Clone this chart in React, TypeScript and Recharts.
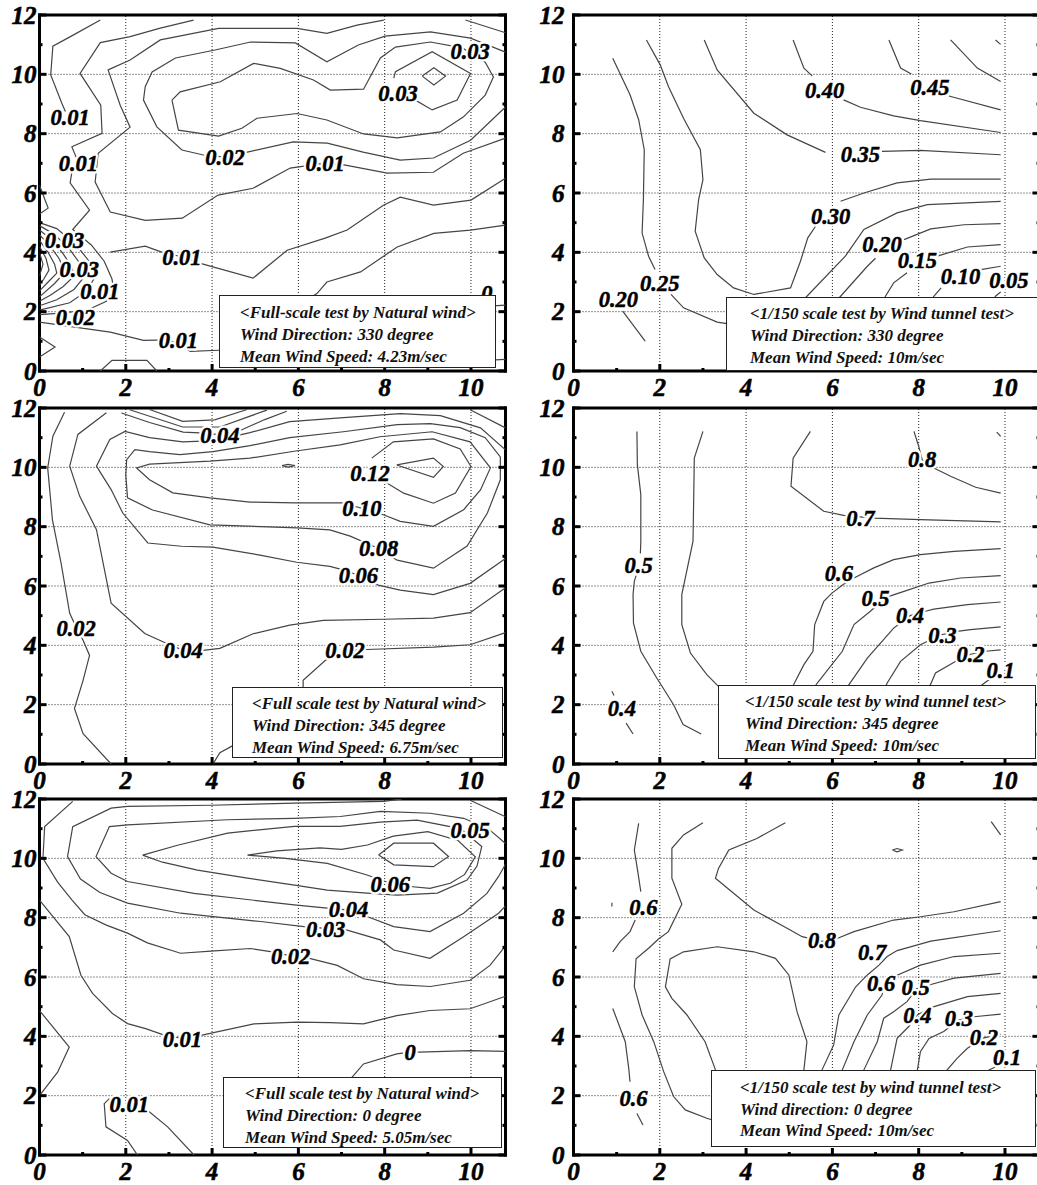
import React from "react";
import { ScatterChart, Scatter, XAxis, YAxis, ReferenceLine } from "recharts";

type Line = number[][];
type Label = [number, number, string];

const X_MAX = 10.8;
const X_TICKS = [0, 1, 2, 3, 4, 5, 6, 7, 8, 9, 10];
const Y_TICKS = [0, 1, 2, 3, 4, 5, 6, 7, 8, 9, 10, 11, 12];
const GRID_X = [2, 4, 6, 8, 10];
const GRID_Y = [2, 4, 6, 8, 10];

// ---- panel 1: full scale, 330 deg ----
const p1Lines: Line[] = [
  [[9.87, 11.83], [10.8, 11.4]],
  [[1.41, 11.83], [0.79, 11.33], [0.31, 10.95], [0.26, 9.98], [0.52, 9.02], [0.6, 8.75]],
  [[3.57, 11.83], [2.8, 11.56], [2.1, 11.27], [1.41, 11.07], [0.94, 10.03], [1.42, 8.96], [1.45, 8.01], [0.75, 7.56], [0.85, 7.2]],
  [[0.75, 6.7], [0.71, 6.34], [1.16, 5.42], [0.77, 4.77], [1.2, 4.25], [1.5, 3.7], [1.68, 3.1], [1.72, 2.75], [1.55, 2.35], [1.1, 2.05], [0.5, 1.95], [0, 1.9]],
  [[7.98, 11.83], [7.36, 11.66], [6.66, 11.38], [5.97, 11.55], [4.15, 11.55], [2.8, 11.16], [2.1, 10.48], [1.59, 10.15], [1.87, 8.96], [2.1, 8.22], [1.36, 7.34], [1.29, 6.37], [1.64, 5.36], [2.45, 5.08], [3.31, 5.15], [4.14, 5.93], [4.95, 6.16], [5.81, 6.84], [6.62, 7.01], [7.09, 6.94], [8.06, 6.67], [9.13, 6.7], [9.82, 7.34], [10.8, 7.85]],
  [[10.8, 10.75], [9.99, 11.22], [9.06, 11.43], [8.01, 11.29], [7.39, 10.99], [6.66, 10.42], [5.93, 11.06], [4.89, 11.09], [4.07, 10.82], [3.15, 10.55], [2.61, 10.08], [2.45, 9.58], [2.41, 9.13], [2.72, 8.23], [3.3, 7.45], [3.8, 7.28], [4.31, 7.21], [4.82, 7.38], [5.88, 7.72], [6.67, 7.68], [7.5, 7.38], [8.36, 7.11], [9.13, 7.18], [9.99, 7.78], [10.8, 8.9]],
  [[3.07, 9.13], [3.26, 9.41], [4.19, 9.75], [4.96, 10.37], [5.58, 10.2], [6.35, 9.81], [6.74, 9.47], [7.51, 9.5], [7.9, 10.55], [8.25, 10.92], [9.06, 11.09], [9.8, 10.89], [10.33, 10.41], [10.52, 9.91], [10.33, 9.3], [9.82, 8.56], [9.29, 8.06], [8.29, 7.86], [7.51, 7.99], [6.66, 8.46], [5.97, 8.68], [5.04, 8.52], [4.69, 8.18], [4.15, 7.92], [3.22, 8.12], [3.07, 9.13]],
  [[8.21, 9.87], [8.25, 10.09], [9.1, 10.76], [9.99, 10.03], [9.68, 9.13], [9.1, 8.8], [8.71, 9.13]],
  [[8.87, 9.94], [9.14, 10.22], [9.41, 9.94], [9.14, 9.64], [8.87, 9.94]],
  [[0, 6.26], [0.2, 5.49], [0, 5.29]],
  [[0, 5.0], [0.4, 4.8], [0.85, 4.25], [1.15, 3.7], [1.3, 3.2], [1.1, 2.7], [0.7, 2.3], [0, 2.05]],
  [[0, 4.9], [0.35, 4.6], [0.7, 4.1], [0.95, 3.6], [1.05, 3.2], [0.8, 2.75], [0.4, 2.4], [0, 2.2]],
  [[0, 4.75], [0.3, 4.4], [0.55, 3.95], [0.75, 3.5], [0.8, 3.2], [0.55, 2.85], [0.25, 2.55], [0, 2.35]],
  [[0, 4.6], [0.25, 4.2], [0.45, 3.8], [0.6, 3.35], [0.35, 2.95], [0, 2.5]],
  [[0, 4.4], [0.2, 4.0], [0.35, 3.6], [0.4, 3.3], [0.2, 3.0], [0, 2.7]],
  [[0, 4.2], [0.15, 3.8], [0.22, 3.4], [0.1, 3.1], [0, 2.9]],
  [[0, 4.0], [0.08, 3.6], [0, 3.2]],
  [[0, 1.65], [1.64, 1.31], [2.41, 1.03], [3.0, 1.05], [3.5, 0.66], [4.15, 0.7], [5.2, 0.72]],
  [[0, 1.15], [0.36, 0.81], [0, 0.47]],
  [[1.41, 0], [1.68, 0.36], [2.49, 0.36], [2.72, 0]],
  [[1.64, 4.01], [2.45, 4.21], [2.88, 3.98], [3.3, 3.85], [3.73, 3.63], [4.95, 3.13], [5.74, 4.07], [6.62, 4.48], [7.13, 4.75], [7.97, 5.59], [8.36, 5.86], [9.13, 5.59], [10.0, 5.76], [10.8, 6.5]],
  [[6.16, 2.38], [6.43, 2.61], [6.66, 3.0], [7.44, 3.34], [8.29, 4.18], [9.14, 4.64], [9.99, 4.75], [10.8, 4.92]],
  [[9.5, 2.1], [10.8, 2.22]],
  [[9.5, 0.3], [10.8, 0.39]],
];
const p1Labels: Label[] = [
  [0.71, 8.57, "0.01"], [0.9, 7.02, "0.01"], [4.3, 7.22, "0.02"], [6.62, 7.0, "0.01"],
  [8.31, 9.38, "0.03"], [9.98, 10.77, "0.03"], [0.58, 4.42, "0.03"], [0.92, 3.45, "0.03"],
  [1.4, 2.7, "0.01"], [0.83, 1.8, "0.02"], [3.3, 3.85, "0.01"], [3.22, 1.03, "0.01"],
  [10.37, 2.63, "0"],
];

// ---- panel 2: 1/150 wind tunnel, 330 deg ----
const p2Lines: Line[] = [
  [[0.91, 10.54], [1.31, 9.31], [1.51, 8.47], [1.64, 7.46], [1.62, 5.77], [1.59, 4.65], [1.74, 3.87], [1.89, 3.42]],
  [[2.26, 2.58], [2.55, 2.13], [3.33, 1.65], [3.56, 1.6], [4.5, 1.5]],
  [[1.14, 2.02], [1.66, 1.01]],
  [[1.69, 11.16], [2.01, 10.32], [2.2, 9.59], [2.55, 8.52], [2.94, 7.46], [3.0, 6.45], [2.9, 5.78], [2.82, 4.71], [3.03, 3.81], [3.33, 3.25], [3.71, 2.8], [4.18, 2.58], [5.03, 2.8], [5.26, 3.7], [5.43, 4.49], [5.61, 4.88]],
  [[6.19, 5.72], [6.73, 6.0], [7.5, 6.34], [8.28, 6.47], [9.9, 6.47]],
  [[3.03, 11.16], [3.33, 10.15], [4.18, 8.69], [4.95, 7.96], [5.84, 7.37]],
  [[7.15, 7.4], [8.04, 7.44], [9.9, 7.29]],
  [[5.09, 11.16], [5.34, 10.21], [5.53, 9.95]],
  [[6.26, 9.14], [6.65, 8.89], [7.42, 8.6], [8.04, 8.44], [9.9, 8.04]],
  [[7.31, 11.16], [7.58, 10.21], [7.83, 10.01]],
  [[8.7, 9.27], [9.9, 8.8]],
  [[8.74, 11.16], [9.36, 10.21], [9.9, 9.76]],
  [[9.78, 11.16], [9.9, 11.01]],
  [[5.0, 1.9], [5.41, 2.52], [6.3, 3.87], [6.73, 4.77], [7.5, 5.33], [8.2, 5.61], [9.9, 5.72]],
  [[5.8, 1.9], [6.19, 2.52], [6.81, 3.53], [7.0, 3.8]],
  [[7.66, 4.43], [8.28, 4.79], [9.05, 4.93], [9.9, 4.97]],
  [[7.0, 1.9], [7.23, 2.52], [7.42, 2.97], [7.73, 3.31]],
  [[8.43, 3.87], [9.13, 4.18], [9.9, 4.26]],
  [[8.2, 2.0], [8.35, 2.52], [8.52, 2.8]],
  [[9.44, 3.42], [9.9, 3.53]],
  [[9.7, 2.3], [9.78, 2.52], [9.9, 2.66]],
];
const p2Labels: Label[] = [
  [1.04, 2.43, "0.20"], [2.0, 2.97, "0.25"], [5.96, 5.22, "0.30"], [6.65, 7.32, "0.35"],
  [5.82, 9.48, "0.40"], [8.26, 9.57, "0.45"], [7.15, 4.26, "0.20"], [7.97, 3.74, "0.15"],
  [8.97, 3.2, "0.10"], [10.09, 3.08, "0.05"],
];

// ---- panel 3: full scale, 345 deg ----
const p3Lines: Line[] = [
  [[0.58, 11.86], [0.31, 11.05], [0.19, 9.98], [0.3, 8.23], [0.5, 6.77], [0.7, 5.08], [0.85, 4.61], [1.01, 4.17], [1.16, 3.66], [1.01, 2.82], [0.81, 1.87], [1.01, 1.02], [1.66, 0]],
  [[1.55, 11.84], [0.89, 11.11], [0.7, 10.04], [0.93, 9.03], [1.32, 7.9], [1.66, 5.42], [2.44, 4.4], [2.86, 4.12], [3.33, 3.83], [3.79, 3.83], [4.18, 3.9], [4.95, 4.39], [5.8, 4.68], [6.58, 4.84], [7.97, 4.88], [9.13, 4.92], [9.98, 5.1], [10.8, 5.94]],
  [[10.8, 10.59], [10.22, 11.33], [9.29, 11.74], [8.36, 11.81], [6.97, 11.67], [5.8, 11.54], [4.88, 11.17], [4.06, 10.9], [3.32, 10.86], [2.55, 11.0], [1.98, 11.21], [1.63, 10.94], [1.32, 10.04], [1.66, 9.25], [1.93, 8.46], [2.51, 7.45], [3.29, 7.34], [4.02, 7.31], [5.11, 7.04], [5.96, 6.8], [6.73, 6.66], [6.97, 6.57], [7.38, 6.37], [7.85, 6.03], [8.36, 5.86], [9.13, 5.71], [9.98, 6.09], [10.8, 6.93]],
  [[8.29, 6.87], [9.13, 6.6], [9.91, 7.35], [10.38, 8.46], [10.68, 9.58], [10.68, 10.35], [10.33, 11.0], [9.75, 11.34], [9.06, 11.47], [8.29, 11.44], [7.04, 11.2], [5.8, 11.0], [4.88, 10.73], [4.02, 10.53], [3.25, 10.43], [2.55, 10.53], [2.21, 10.6], [2.02, 10.26], [2.0, 9.75], [2.04, 8.97], [2.62, 8.56], [3.95, 8.06], [5.97, 7.96], [6.73, 7.89], [7.2, 7.68], [7.85, 7.27], [8.29, 6.87]],
  [[7.97, 8.4], [8.36, 8.18], [9.13, 8.01], [9.83, 8.57], [10.22, 9.24], [10.45, 9.98], [9.98, 10.86], [9.1, 11.2], [7.89, 11.03], [6.97, 10.76], [5.94, 10.55], [4.88, 10.31], [3.95, 10.21], [2.55, 10.11], [2.25, 9.98], [2.55, 9.58], [3.09, 9.14], [3.95, 8.97], [4.88, 8.83], [5.94, 8.8], [7.01, 8.8], [7.47, 8.62], [7.97, 8.4]],
  [[7.7, 10.31], [8.2, 10.86], [9.13, 10.96], [9.75, 10.62], [10.0, 10.03], [9.64, 9.13], [9.13, 8.79], [8.44, 9.13], [8.05, 9.47]],
  [[8.28, 10.08], [9.13, 10.31], [9.36, 10.03], [9.13, 9.66], [8.28, 10.08]],
  [[5.62, 10.06], [5.76, 10.1], [5.92, 10.06], [5.76, 10.01], [5.62, 10.06]],
  [[2.55, 11.95], [3.32, 11.55], [4.06, 11.6], [4.81, 11.95]],
  [[2.09, 11.94], [3.32, 11.36], [4.18, 11.36], [5.27, 11.93]],
  [[1.9, 11.83], [2.55, 11.51], [3.33, 11.19], [3.71, 11.16], [4.18, 11.1], [4.6, 11.21], [5.22, 11.61], [5.73, 11.89]],
  [[5.92, 2.14], [6.11, 2.48], [6.11, 2.82], [6.62, 3.49], [7.08, 3.83], [7.59, 3.86], [9.13, 3.94], [9.98, 4.02], [10.8, 4.43]],
  [[4.02, 0], [4.18, 0.38], [4.48, 0.62], [5.0, 0.8]],
  [[9.98, 11.94], [10.8, 11.33]],
];
const p3Labels: Label[] = [
  [4.18, 11.1, "0.04"], [7.66, 9.8, "0.12"], [7.47, 8.62, "0.10"], [7.86, 7.27, "0.08"],
  [7.39, 6.37, "0.06"], [0.85, 4.59, "0.02"], [3.33, 3.83, "0.04"], [7.08, 3.83, "0.02"],
];

// ---- panel 4: 1/150 wind tunnel, 345 deg ----
const p4Lines: Line[] = [
  [[1.47, 11.21], [1.48, 10.09], [1.56, 9.08], [1.56, 7.51], [1.55, 7.1]],
  [[1.45, 6.35], [1.41, 6.16], [1.38, 5.71], [1.39, 4.75], [1.56, 3.8], [1.93, 2.9], [2.32, 2.0], [2.54, 1.33], [2.96, 1.01]],
  [[3.0, 11.21], [2.8, 10.31], [2.77, 7.51], [2.51, 5.71], [2.51, 4.7], [2.71, 3.74], [3.09, 3.01], [3.4, 2.56], [3.71, 2.22], [4.1, 2.0]],
  [[0.89, 2.45], [0.94, 2.31]],
  [[1.22, 1.38], [1.38, 1.01]],
  [[5.49, 11.21], [5.09, 10.31], [5.04, 9.36], [5.8, 8.52], [6.26, 8.38], [6.96, 8.29], [8.04, 8.24], [9.9, 8.16]],
  [[7.89, 11.21], [8.0, 10.71], [8.08, 10.26], [8.35, 9.98], [8.74, 9.7], [9.32, 9.33], [9.9, 9.13]],
  [[9.81, 11.19], [9.9, 11.04]],
  [[4.9, 2.2], [5.1, 2.67], [5.34, 3.35], [5.55, 3.8], [5.59, 4.7], [5.8, 5.48], [5.99, 5.76], [6.25, 6.05], [6.5, 6.27], [6.96, 6.61], [7.42, 6.89], [8.04, 7.06], [8.82, 7.17], [9.9, 7.26]],
  [[5.4, 2.2], [5.65, 2.73], [6.23, 3.8], [6.5, 4.7], [6.88, 5.15], [7.0, 5.3], [7.31, 5.65], [7.66, 5.82], [8.24, 6.1], [8.97, 6.27], [9.9, 6.35]],
  [[6.2, 2.2], [6.38, 2.67], [6.81, 3.57], [7.42, 4.58], [7.8, 5.0], [8.16, 5.15], [8.35, 5.22], [9.13, 5.37], [9.9, 5.46]],
  [[7.1, 2.2], [7.27, 2.73], [7.58, 3.46], [8.04, 4.02], [8.5, 4.35], [8.89, 4.47], [9.2, 4.53], [9.9, 4.62]],
  [[8.1, 2.2], [8.28, 2.7], [8.39, 3.07], [8.86, 3.46], [9.2, 3.7], [9.55, 3.8], [9.9, 3.85]],
  [[9.3, 2.3], [9.47, 2.67], [9.63, 2.84], [9.8, 3.05]],
];
const p4Labels: Label[] = [
  [1.51, 6.72, "0.5"], [1.12, 1.89, "0.4"], [6.65, 8.29, "0.7"], [8.08, 10.26, "0.8"],
  [6.15, 6.44, "0.6"], [7.0, 5.6, "0.5"], [7.8, 5.03, "0.4"], [8.55, 4.36, "0.3"],
  [9.2, 3.69, "0.2"], [9.9, 3.18, "0.1"],
];

// ---- panel 5: full scale, 0 deg ----
const p5Lines: Line[] = [
  [[0.77, 11.92], [0.12, 11.07], [0.08, 10.0], [0.42, 9.2], [0.75, 8.6], [1.05, 8.1], [1.55, 7.75], [2.04, 7.48], [2.5, 7.15], [3.27, 6.8], [3.97, 6.87], [4.89, 6.96], [5.43, 6.84], [5.82, 6.71], [6.28, 6.62], [6.9, 6.39], [7.51, 5.94], [8.28, 5.74], [9.06, 5.68], [9.98, 5.89], [10.44, 6.39], [10.8, 7.05]],
  [[8.4, 12.0], [7.98, 11.92], [5.9, 11.86], [3.97, 11.79], [2.04, 11.75], [1.66, 11.69], [0.77, 11.07], [0.65, 10.06], [0.95, 9.3], [1.4, 8.85], [2.04, 8.49], [3.27, 8.15], [5.12, 7.87], [6.13, 7.7], [6.63, 7.64], [7.13, 7.58], [7.9, 7.25], [8.21, 6.91], [9.05, 6.63], [9.83, 7.36], [10.64, 8.15], [10.8, 8.4]],
  [[10.8, 10.5], [10.4, 11.0], [9.83, 11.35], [9.05, 11.52], [7.9, 11.58], [6.97, 11.41], [5.9, 11.35], [4.35, 11.3], [2.04, 11.13], [1.62, 11.07], [1.31, 10.06], [1.66, 9.5], [2.04, 9.22], [3.58, 8.82], [5.9, 8.43], [6.67, 8.32], [7.13, 8.26], [7.59, 8.04], [8.21, 7.7], [9.05, 7.53], [9.83, 8.15], [10.37, 8.82], [10.64, 9.39], [10.8, 9.8]],
  [[2.39, 10.11], [3.2, 10.44], [4.36, 10.85], [5.91, 11.08], [6.97, 11.08], [7.89, 11.22], [8.75, 11.29], [9.75, 11.0], [10.25, 10.4], [10.14, 9.74], [9.91, 9.27], [9.22, 8.83], [8.29, 8.76], [7.59, 8.83], [6.67, 8.93], [5.91, 9.1], [4.82, 9.33], [3.66, 9.6], [2.85, 9.87], [2.39, 10.11]],
  [[4.82, 10.11], [5.5, 10.25], [6.5, 10.35], [7.0, 10.3], [7.6, 10.45], [8.2, 10.75], [9.0, 10.9], [9.7, 10.6], [10.1, 10.05], [9.85, 9.45], [9.52, 9.16], [9.05, 8.99], [8.59, 9.05], [8.13, 9.16], [7.59, 9.44], [6.67, 9.83], [5.7, 10.0], [4.82, 10.11]],
  [[7.86, 10.11], [8.21, 10.51], [9.13, 10.51], [9.48, 10.06], [9.13, 9.72], [8.21, 9.78], [7.86, 10.11]],
  [[0, 8.59], [0.69, 7.36], [0.96, 6.06], [1.23, 5.45], [1.69, 4.77], [2.04, 4.43], [2.46, 4.26], [2.89, 4.04], [3.31, 3.93], [3.74, 4.03], [4.97, 4.42], [5.97, 4.48], [6.74, 4.46], [7.51, 4.42], [8.28, 4.7], [9.05, 4.87], [9.98, 4.93], [10.8, 5.35]],
  [[0, 4.87], [0.69, 3.64], [0.42, 2.79], [0, 2.0]],
  [[1.62, 1.9], [1.5, 1.73], [1.54, 0.95], [2.04, 0.49], [2.27, 0]],
  [[2.46, 1.56], [2.97, 0.95], [3.58, 0]],
  [[7.1, 2.2], [7.24, 2.62], [7.51, 3.07], [8.28, 3.41], [8.59, 3.47], [8.79, 3.47], [9.98, 3.52], [10.8, 3.49]],
  [[9.98, 11.96], [10.8, 11.4]],
];
const p5Labels: Label[] = [
  [9.98, 10.95, "0.05"], [8.13, 9.14, "0.06"], [7.16, 8.3, "0.04"], [6.63, 7.6, "0.03"],
  [5.82, 6.71, "0.02"], [3.31, 3.92, "0.01"], [2.08, 1.72, "0.01"], [8.59, 3.47, "0"],
];

// ---- panel 6: 1/150 wind tunnel, 0 deg ----
const p6Lines: Line[] = [
  [[1.51, 11.18], [1.41, 10.28], [1.49, 9.55], [1.56, 8.88]],
  [[1.43, 7.92], [1.31, 7.53], [1.08, 7.19], [0.91, 6.85]],
  [[0.89, 8.5], [0.89, 8.38]],
  [[3.0, 11.2], [2.55, 10.79], [2.28, 10.34], [2.28, 9.33], [2.51, 8.45], [2.2, 7.53], [1.97, 7.28], [1.74, 6.97], [1.45, 6.61], [1.41, 5.67], [1.59, 4.72], [1.86, 3.82], [2.09, 2.81], [2.32, 1.97], [2.59, 1.52], [3.09, 1.24], [3.4, 1.1]],
  [[0.91, 4.94], [1.2, 3.82], [1.28, 2.92], [1.31, 2.47]],
  [[1.47, 1.4], [1.61, 1.01]],
  [[3.4, 2.3], [3.29, 2.87], [3.05, 3.82], [2.63, 4.72], [2.28, 5.28], [2.13, 5.67], [2.24, 6.61], [2.55, 6.85], [3.33, 7.02], [4.18, 6.85], [4.68, 6.63], [4.99, 6.07], [5.18, 4.83], [5.41, 3.82], [5.34, 2.87], [5.3, 2.3]],
  [[4.91, 11.2], [4.25, 10.67], [3.6, 10.28], [3.36, 9.66], [3.29, 9.33], [4.18, 8.26], [4.95, 7.64], [5.3, 7.36], [5.76, 7.2], [6.11, 7.3], [6.5, 7.53], [7.42, 7.92], [8.04, 8.03], [8.82, 8.2], [9.9, 8.54]],
  [[7.39, 10.28], [7.5, 10.33], [7.62, 10.28], [7.5, 10.22], [7.39, 10.28]],
  [[9.68, 11.24], [9.9, 10.79]],
  [[5.7, 2.3], [5.76, 2.87], [6.03, 3.71], [6.15, 4.72], [6.54, 5.67], [6.81, 6.07], [7.08, 6.4], [7.27, 6.69], [7.5, 6.89], [8.28, 7.21], [9.9, 7.56]],
  [[6.1, 2.3], [6.23, 2.87], [6.5, 3.82], [6.81, 4.72], [7.15, 5.39], [7.2, 5.75], [7.42, 6.01], [8.04, 6.4], [8.82, 6.69], [9.9, 6.8]],
  [[6.6, 2.3], [6.73, 2.87], [7.04, 3.82], [7.19, 4.61], [7.42, 4.83], [7.73, 5.17], [7.95, 5.6], [8.24, 5.73], [8.82, 5.96], [9.9, 6.12]],
  [[7.25, 2.3], [7.35, 2.87], [7.5, 3.93], [7.77, 4.33], [7.97, 4.72], [8.28, 4.97], [9.13, 5.34], [9.9, 5.45]],
  [[7.9, 2.3], [7.97, 2.87], [8.04, 3.48], [8.24, 3.93], [8.58, 4.16], [8.93, 4.55], [9.28, 4.66], [9.9, 4.75]],
  [[8.55, 2.3], [8.66, 2.87], [8.89, 3.26], [9.13, 3.6], [9.51, 3.95], [9.9, 4.07]],
  [[9.5, 2.5], [9.63, 2.87], [9.74, 2.94], [9.95, 3.2]],
];
const p6Labels: Label[] = [
  [1.62, 8.37, "0.6"], [1.39, 1.91, "0.6"], [5.76, 7.25, "0.8"], [6.92, 6.85, "0.7"],
  [7.13, 5.79, "0.6"], [7.93, 5.67, "0.5"], [7.97, 4.72, "0.4"], [8.93, 4.61, "0.3"],
  [9.51, 3.99, "0.2"], [10.05, 3.31, "0.1"],
];

const p1Text = ["<Full-scale test by Natural wind>", "Wind Direction: 330 degree", "Mean Wind Speed: 4.23m/sec"];
const p2Text = ["<1/150 scale test by Wind tunnel test>", "Wind Direction: 330 degree", "Mean Wind Speed: 10m/sec"];
const p3Text = ["<Full scale test by Natural wind>", "Wind Direction: 345 degree", "Mean Wind Speed: 6.75m/sec"];
const p4Text = ["<1/150 scale test by wind tunnel test>", "Wind Direction: 345 degree", "Mean Wind Speed: 10m/sec"];
const p5Text = ["<Full scale test by Natural wind>", "Wind Direction: 0 degree", "Mean Wind Speed: 5.05m/sec"];
const p6Text = ["<1/150 scale test by wind tunnel test>", "Wind direction: 0 degree", "Mean Wind Speed: 10m/sec"];

// ---- layout / style ----
const FONT = "'Liberation Serif', 'Times New Roman', Times, serif";
const CHART_H = 410;
const PLOT_W = 466;
const BOTTOM_GAP = 4;
const LINE_COLOR = "#454545";
const FRAME = { stroke: "#000", strokeWidth: 3, strokeLinecap: "square" as const };
const tickFont = {
  fontFamily: FONT,
  fontWeight: 700,
  fontStyle: "italic",
  fontSize: 25,
  fill: "#000",
  stroke: "#000",
  strokeWidth: 0.6,
};

const leftTick = (gap: number) => (p: any) => {
  const v = p.payload.value as number;
  const edge = p.x + gap;
  const major = v % 2 === 0;
  return (
    <g>
      <line x1={edge} x2={edge + (major ? 7 : 3)} y1={p.y} y2={p.y} stroke="#000" strokeWidth={3} />
      {major ? (
        <text x={p.x} y={p.y} dy="0.34em" textAnchor="end" {...tickFont}>{v}</text>
      ) : null}
    </g>
  );
};
const rightTick = (p: any) => {
  const major = (p.payload.value as number) % 2 === 0;
  return <line x1={p.x} x2={p.x - (major ? 7 : 3)} y1={p.y} y2={p.y} stroke="#000" strokeWidth={3} />;
};
const bottomTick = (p: any) => {
  const v = p.payload.value as number;
  const edge = p.y - BOTTOM_GAP;
  const major = v % 2 === 0;
  return (
    <g>
      <line x1={p.x} x2={p.x} y1={edge} y2={edge - (major ? 7 : 3)} stroke="#000" strokeWidth={3} />
      {major ? (
        <text x={p.x} y={edge + 25} textAnchor="middle" {...tickFont}>{v}</text>
      ) : null}
    </g>
  );
};
const topTick = (p: any) => {
  const major = (p.payload.value as number) % 2 === 0;
  return <line x1={p.x} x2={p.x} y1={p.y} y2={p.y + (major ? 7 : 3)} stroke="#000" strokeWidth={3} />;
};

const noDot = () => <g />;
const labelFont = {
  dy: "0.35em",
  textAnchor: "middle" as const,
  fontFamily: FONT,
  fontWeight: 700,
  fontStyle: "italic",
  fontSize: 22.5,
};
const labelShape = (p: any) => (
  <g>
    <text x={p.cx} y={p.cy} {...labelFont} fill="#fff" stroke="#fff" strokeWidth={5} strokeLinejoin="round">
      {p.payload.t}
    </text>
    <text x={p.cx} y={p.cy} {...labelFont} fill="#000" stroke="#000" strokeWidth={0.5}>
      {p.payload.t}
    </text>
  </g>
);

type PanelProps = {
  left: number;
  top: number;
  width: number;
  yAxisW: number;
  gap: number;
  lines: Line[];
  labels: Label[];
};

function Panel({ left, top, width, yAxisW, gap, lines, labels }: PanelProps) {
  const right = width - yAxisW - PLOT_W - 1;
  const labelData = labels.map(([x, y, t]) => ({ x, y, t }));
  return (
    <div style={{ position: "absolute", left, top }}>
      <ScatterChart width={width} height={CHART_H} margin={{ top: 14, right, bottom: 0, left: 0 }}>
        <XAxis
          xAxisId="b"
          dataKey="x"
          type="number"
          domain={[0, X_MAX]}
          ticks={X_TICKS}
          interval={0}
          allowDataOverflow
          height={39}
          tickSize={0}
          tickMargin={BOTTOM_GAP}
          tickLine={false}
          axisLine={FRAME}
          tick={bottomTick}
        />
        <XAxis
          xAxisId="t"
          orientation="top"
          type="number"
          domain={[0, X_MAX]}
          ticks={X_TICKS}
          interval={0}
          allowDataOverflow
          height={1}
          tickSize={0}
          tickMargin={0}
          tickLine={false}
          axisLine={FRAME}
          tick={topTick}
        />
        <YAxis
          yAxisId="l"
          dataKey="y"
          type="number"
          domain={[0, 12]}
          ticks={Y_TICKS}
          interval={0}
          allowDataOverflow
          width={yAxisW}
          tickSize={0}
          tickMargin={gap}
          tickLine={false}
          axisLine={FRAME}
          tick={leftTick(gap)}
        />
        <YAxis
          yAxisId="r"
          orientation="right"
          type="number"
          domain={[0, 12]}
          ticks={Y_TICKS}
          interval={0}
          allowDataOverflow
          width={1}
          tickSize={0}
          tickMargin={0}
          tickLine={false}
          axisLine={FRAME}
          tick={rightTick}
        />
        {GRID_X.map((v) => (
          <ReferenceLine key={"gx" + v} x={v} xAxisId="b" yAxisId="l" stroke="#222" strokeWidth={1} strokeDasharray="1 2" />
        ))}
        {GRID_Y.map((v) => (
          <ReferenceLine key={"gy" + v} y={v} xAxisId="b" yAxisId="l" stroke="#222" strokeWidth={1} strokeDasharray="1 2" />
        ))}
        {lines.map((ln, i) => (
          <Scatter
            key={"c" + i}
            data={ln.map(([x, y]) => ({ x, y }))}
            xAxisId="b"
            yAxisId="l"
            line={{ stroke: LINE_COLOR, strokeWidth: 1.2 }}
            lineType="joint"
            shape={noDot}
            isAnimationActive={false}
          />
        ))}
        <Scatter data={labelData} xAxisId="b" yAxisId="l" shape={labelShape} isAnimationActive={false} />
      </ScatterChart>
    </div>
  );
}

type BoxProps = { left: number; top: number; width: number; height: number; padLeft: number; padTop: number; lineH: number; text: string[] };

function InfoBox({ left, top, width, height, padLeft, padTop, lineH, text }: BoxProps) {
  return (
    <div
      style={{
        position: "absolute",
        left,
        top,
        width,
        height,
        boxSizing: "border-box",
        background: "#fff",
        border: "1px solid #222",
        paddingLeft: padLeft,
        paddingTop: padTop,
        fontFamily: FONT,
        fontWeight: 700,
        fontStyle: "italic",
        fontSize: 17,
        lineHeight: lineH + "px",
        whiteSpace: "nowrap",
        color: "#111",
      }}
    >
      {text.map((t) => (
        <div key={t}>{t}</div>
      ))}
    </div>
  );
}

export default function App() {
  return (
    <div
      style={{
        position: "absolute",
        left: 0,
        top: 0,
        width: 1037,
        height: 1185,
        overflow: "hidden",
        background: "#fff",
      }}
    >
      <Panel left={0} top={0} width={520} yAxisW={39.5} gap={3} lines={p1Lines} labels={p1Labels} />
      <Panel left={520} top={0} width={533} yAxisW={53.5} gap={9} lines={p2Lines} labels={p2Labels} />
      <Panel left={0} top={393.3} width={520} yAxisW={39.5} gap={3} lines={p3Lines} labels={p3Labels} />
      <Panel left={520} top={393.3} width={533} yAxisW={53.5} gap={9} lines={p4Lines} labels={p4Labels} />
      <Panel left={0} top={783.5} width={520} yAxisW={39.5} gap={3} lines={p5Lines} labels={p5Labels} />
      <Panel left={520} top={783.5} width={533} yAxisW={53.5} gap={9} lines={p6Lines} labels={p6Labels} />
      <InfoBox left={219} top={295} width={277} height={73} padLeft={20} padTop={6} lineH={22} text={p1Text} />
      <InfoBox left={726} top={297} width={330} height={74} padLeft={23} padTop={4.5} lineH={22} text={p2Text} />
      <InfoBox left={232} top={687} width={271} height={71} padLeft={19} padTop={4.5} lineH={22} text={p3Text} />
      <InfoBox left={718} top={685} width={318} height={74} padLeft={26} padTop={4.5} lineH={22} text={p4Text} />
      <InfoBox left={223} top={1077} width={279} height={71} padLeft={21} padTop={4.5} lineH={22} text={p5Text} />
      <InfoBox left={711} top={1070} width={325} height={77} padLeft={28} padTop={6} lineH={21.7} text={p6Text} />
    </div>
  );
}
